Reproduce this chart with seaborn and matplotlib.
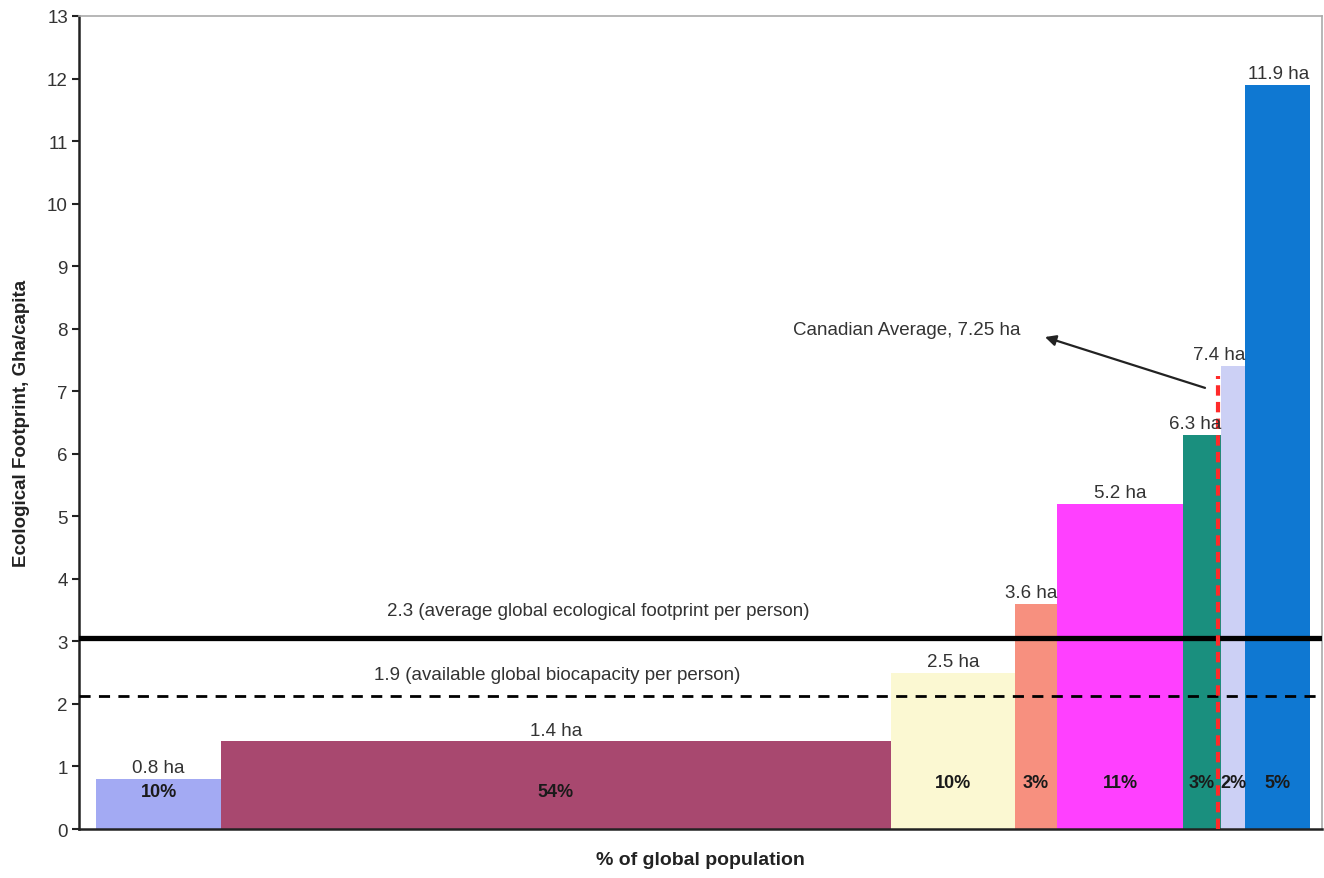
import numpy as np
import pandas as pd
import seaborn as sns
import matplotlib
matplotlib.use("Agg")
import matplotlib.pyplot as plt

# ---- data ----
footprint = [0.8, 1.4, 2.5, 3.6, 5.2, 6.3, 7.4, 11.9]          # Gha/capita
pop_share = ["10%", "54%", "10%", "3%", "11%", "3%", "2%", "5%"]  # labels
bar_widths = [10.0, 53.9, 10.0, 3.4, 10.1, 3.1, 1.9, 5.2]        # widths as drawn (x units)
bar_colors = ["#a3aaf3", "#a8486f", "#fbf8d2", "#f7907f",
              "#ff40ff", "#1a8f7e", "#ccd0f5", "#0f78d2"]
x_start = 1.4
world_footprint_line = 3.05
biocapacity_line = 2.12
canadian_avg = 7.25
canadian_x = 91.6

sns.set_theme(style="white")
plt.rcParams['font.family'] = ['Liberation Sans', 'DejaVu Sans']

lefts = x_start + np.concatenate([[0], np.cumsum(bar_widths)[:-1]])
df = pd.DataFrame({"left": lefts, "width": bar_widths, "value": footprint,
                   "share": pop_share, "color": bar_colors})
df["center"] = df["left"] + df["width"] / 2
df["right"] = df["left"] + df["width"]

fig = plt.figure(figsize=(13.24, 8.79), dpi=100)
ax = fig.add_axes([0.0597, 0.0557, 0.9388, 0.925])

ax.bar(df["left"], df["value"], width=df["width"], align="edge",
       color=df["color"], edgecolor="none", linewidth=0, zorder=2)

FS = 13.5
for _, r in df.iterrows():
    narrow = r["width"] < 6
    xpos = r["right"] if narrow else r["center"]
    ax.annotate(f"{r['value']:.1f} ha", (xpos, r["value"]),
                xytext=(0, 2), textcoords="offset points",
                ha="right" if narrow else "center", va="bottom",
                fontsize=FS, color="#333333", zorder=5)
    ypct = 0.6 if r.name < 2 else 0.75
    ax.text(r["center"], ypct, r["share"], ha="center", va="center",
            fontsize=13, fontweight="bold", color="#1a1a1a", zorder=5)

ax.axhline(world_footprint_line, color="black", lw=3.8, zorder=3)
ax.axhline(biocapacity_line, color="black", lw=2.0, ls=(0, (4, 3)), zorder=3)
ax.text(41.8, 3.5, "2.3 (average global ecological footprint per person)",
        ha="center", va="center", fontsize=FS, color="#333333")
ax.text(38.5, 2.47, "1.9 (available global biocapacity per person)",
        ha="center", va="center", fontsize=FS, color="#333333")

ax.plot([canadian_x, canadian_x], [0, canadian_avg], color="#ff2a2a",
        lw=3.0, ls=(0, (2.5, 1.5)), zorder=4)
ax.annotate("", xy=(77.5, 7.88), xytext=(90.8, 7.04),
            arrowprops=dict(arrowstyle="-|>", color="#222222", lw=1.6,
                            mutation_scale=16), zorder=6)
ax.text(66.6, 7.99, "Canadian Average, 7.25 ha", ha="center", va="center",
        fontsize=FS, color="#333333")

ax.set_xlim(0, 100)
ax.set_ylim(0, 13)
ax.set_yticks(range(0, 14))
ax.set_xticks([])
ax.tick_params(axis="y", direction="out", length=5, width=1.5, color="#222222",
               labelsize=13.5, labelcolor="#333333", pad=3, left=True)
ax.set_ylabel("Ecological Footprint, Gha/capita", fontsize=13.5, fontweight="bold",
              color="#222222", labelpad=12)
ax.set_xlabel("% of global population", fontsize=14, fontweight="bold",
              color="#222222", labelpad=16)

for s in ["left", "bottom"]:
    ax.spines[s].set_color("#222222")
    ax.spines[s].set_linewidth(1.8)
for s in ["top", "right"]:
    ax.spines[s].set_color("#aaaaaa")
    ax.spines[s].set_linewidth(1.2)

fig.savefig("out.png", dpi=100, facecolor="white")
